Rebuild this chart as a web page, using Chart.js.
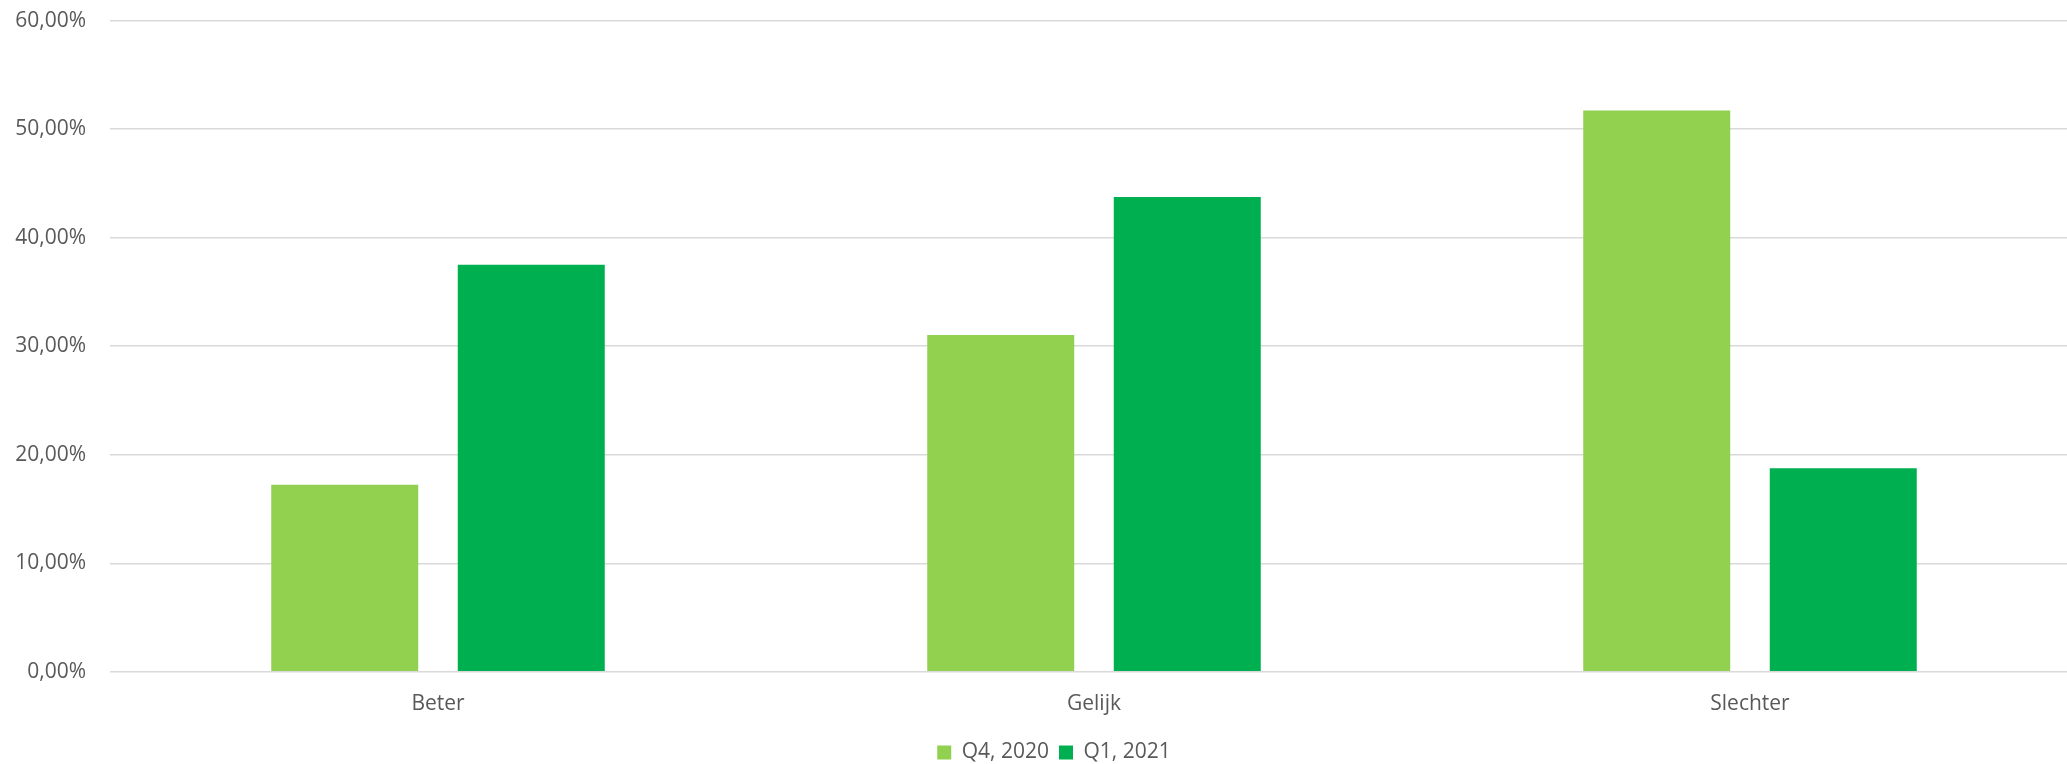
<!DOCTYPE html>
<html>
<head>
<meta charset="utf-8">
<script src="https://cdn.jsdelivr.net/npm/chart.js@4.4.1/dist/chart.umd.min.js"></script>
<style>
  html, body { margin: 0; padding: 0; background: #ffffff; overflow: hidden; }
  #wrap { position: absolute; left: 0; top: -16px; width: 2078px; height: 786px; }
</style>
</head>
<body>
<div id="wrap"><canvas id="c"></canvas></div>
<script>
const categories = ['Beter', 'Gelijk', 'Slechter'];
const seriesNames = ['Q4, 2020', 'Q1, 2021'];
const q4_2020 = [17.24, 31.03, 51.72];
const q1_2021 = [37.50, 43.75, 18.75];
const yTicks = [0, 10, 20, 30, 40, 50, 60];

const textColor = '#595959';
const fontFamily = '"Open Sans", "Noto Sans", sans-serif';

const legendShift = {
  id: 'legendShift',
  afterLayout(chart) {
    const lg = chart.legend;
    if (lg) {
      lg.left += 15; lg.right += 15;
      lg.top += 3; lg.bottom += 3;
    }
  }
};

new Chart(document.getElementById('c'), {
  type: 'bar',
  data: {
    labels: categories,
    datasets: [
      { label: seriesNames[0], data: q4_2020, backgroundColor: '#92D050', barPercentage: 0.788, categoryPercentage: 0.5687 },
      { label: seriesNames[1], data: q1_2021, backgroundColor: '#00B050', barPercentage: 0.788, categoryPercentage: 0.5687 }
    ]
  },
  options: {
    responsive: true,
    maintainAspectRatio: false,
    animation: false,
    layout: { padding: { top: 8, right: 0, bottom: 0, left: 0 } },
    plugins: {
      legend: {
        position: 'bottom',
        labels: {
          boxWidth: 14, boxHeight: 14, padding: 10,
          color: textColor,
          font: { family: fontFamily, size: 21 }
        }
      },
      tooltip: { enabled: false }
    },
    scales: {
      x: {
        grid: { display: false },
        border: { display: false },
        ticks: { color: textColor, font: { family: fontFamily, size: 21 }, padding: 12 }
      },
      y: {
        min: 0, max: 60,
        afterFit(scale) { scale.width = 110; },
        afterBuildTicks(scale) { scale.ticks = yTicks.map(v => ({ value: v })); },
        grid: { color: '#D9D9D9', lineWidth: 1.5, drawTicks: false },
        border: { display: false },
        ticks: {
          color: textColor,
          font: { family: fontFamily, size: 21 },
          padding: 24,
          callback: v => v.toFixed(2).replace('.', ',') + '%'
        }
      }
    }
  },
  plugins: [legendShift]
});
</script>
</body>
</html>
